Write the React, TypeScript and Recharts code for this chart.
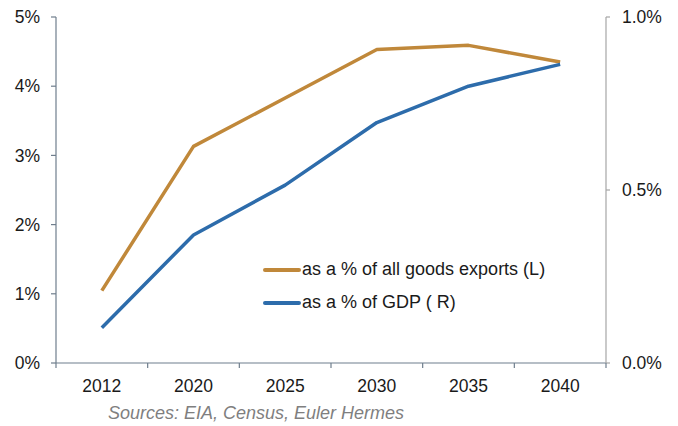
import { Legend, Line, LineChart, XAxis, YAxis } from 'recharts'

const YEARS = ['2012', '2020', '2025', '2030', '2035', '2040']
// share of all goods exports, % (left axis)
const EXPORTS_SHARE = [1.045, 3.13, 3.83, 4.53, 4.59, 4.35]
// share of GDP, % (right axis)
const GDP_SHARE = [0.102, 0.37, 0.514, 0.695, 0.8, 0.863]
const LEFT_TICKS = [0, 1, 2, 3, 4, 5]
const RIGHT_TICKS = [0, 0.5, 1.0]
const SOURCE = 'Sources: EIA, Census, Euler Hermes'

const GOLD = '#c0883a'
const BLUE = '#2d6cab'
const AXIS_INK = '#6f7e8d'
const RIGHT_AXIS = '#a6a6a6'
const TEXT = '#1a1a1a'
const FONT = 'Liberation Sans, Arial, sans-serif'

const data = YEARS.map((year, i) => ({
  idx: i,
  year,
  exports: EXPORTS_SHARE[i],
  gdp: GDP_SHARE[i],
}))

// tick marks sit between categories, labels at category centres
const X_TICKS = YEARS.flatMap((_, i) => [i - 0.5, i]).concat(YEARS.length - 0.5)

const tickText = { fill: TEXT, fontSize: 17.5, fontFamily: FONT }

function YearTick({ x, y, payload }: any) {
  const v = payload.value as number
  if (!Number.isInteger(v)) {
    return <line x1={x} x2={x} y1={y} y2={y + 5} stroke={AXIS_INK} strokeWidth={1.2} />
  }
  return (
    <text x={x} y={y + 29} textAnchor="middle" {...tickText}>
      {YEARS[v]}
    </text>
  )
}

function LegendBox() {
  const rows = [
    { color: GOLD, label: 'as a % of all goods exports (L)' },
    { color: BLUE, label: 'as a % of GDP ( R)' },
  ]
  return (
    <div style={{ fontFamily: FONT, fontSize: 18, color: TEXT }}>
      {rows.map((r) => (
        <div key={r.label} style={{ display: 'flex', alignItems: 'center', height: 33 }}>
          <span
            style={{
              display: 'inline-block',
              width: 38,
              height: 4,
              borderRadius: 2,
              background: r.color,
              marginRight: 1,
            }}
          />
          <span style={{ whiteSpace: 'nowrap' }}>{r.label}</span>
        </div>
      ))}
    </div>
  )
}

export default function App() {
  return (
    <div style={{ position: 'absolute', left: 0, top: 0, width: 678, height: 426, background: '#fff' }}>
      <LineChart
        width={678}
        height={426}
        data={data}
        margin={{ top: 17, right: 0, bottom: 0, left: 0 }}
      >
        <XAxis
          dataKey="idx"
          type="number"
          domain={[-0.5, YEARS.length - 0.5]}
          ticks={X_TICKS}
          interval={0}
          height={63}
          tickSize={0}
          tickMargin={0}
          tickLine={false}
          axisLine={{ stroke: AXIS_INK, strokeWidth: 1.2 }}
          tick={<YearTick />}
        />
        <YAxis
          yAxisId="left"
          domain={[0, 5]}
          ticks={LEFT_TICKS}
          width={56}
          tick={tickText}
          tickSize={5}
          tickMargin={11}
          tickLine={{ stroke: AXIS_INK, strokeWidth: 1.2 }}
          axisLine={{ stroke: AXIS_INK, strokeWidth: 1.2 }}
          tickFormatter={(v: number) => `${v}%`}
        />
        <YAxis
          yAxisId="right"
          orientation="right"
          domain={[0, 1]}
          ticks={RIGHT_TICKS}
          width={72}
          tick={tickText}
          tickSize={4}
          tickMargin={12}
          tickLine={{ stroke: RIGHT_AXIS, strokeWidth: 1.2 }}
          axisLine={{ stroke: RIGHT_AXIS, strokeWidth: 1.2 }}
          tickFormatter={(v: number) => `${v.toFixed(1)}%`}
        />
        <Legend
          layout="horizontal"
          verticalAlign="middle"
          align="center"
          content={<LegendBox />}
          wrapperStyle={{ position: 'absolute', left: 263, top: 253, width: 320 }}
        />
        <Line
          yAxisId="left"
          dataKey="exports"
          type="linear"
          stroke={GOLD}
          strokeWidth={3.5}
          strokeLinejoin="round"
          dot={false}
          isAnimationActive={false}
        />
        <Line
          yAxisId="right"
          dataKey="gdp"
          type="linear"
          stroke={BLUE}
          strokeWidth={3.5}
          strokeLinejoin="round"
          dot={false}
          isAnimationActive={false}
        />
      </LineChart>
      <div
        style={{
          position: 'absolute',
          left: 108,
          top: 403,
          fontFamily: FONT,
          fontSize: 18,
          fontStyle: 'italic',
          color: '#7f7f7f',
          lineHeight: '20px',
          whiteSpace: 'nowrap',
        }}
      >
        {SOURCE}
      </div>
    </div>
  )
}
